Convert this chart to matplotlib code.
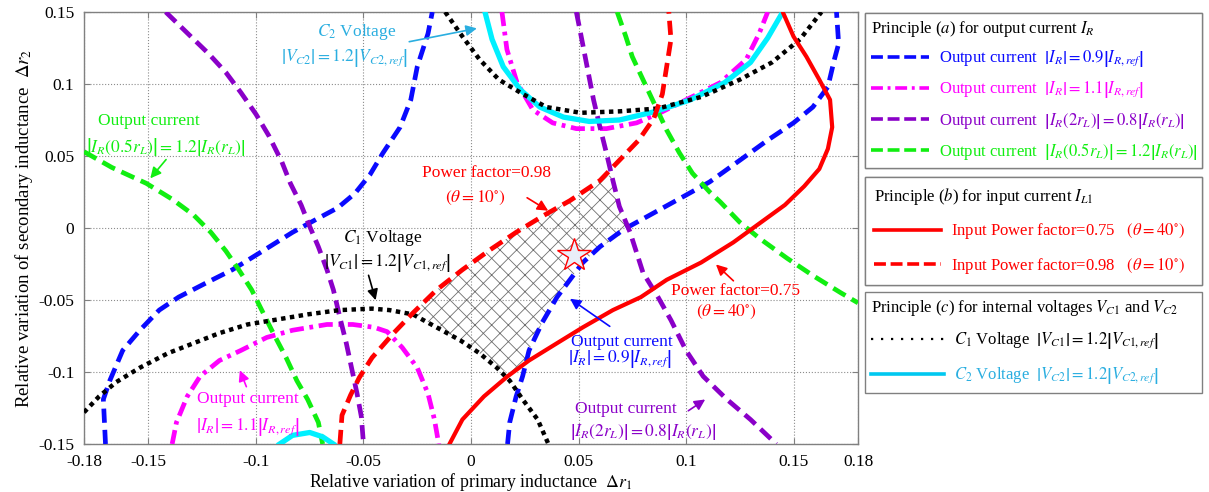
import matplotlib
matplotlib.use('Agg')
import matplotlib.pyplot as plt
from matplotlib.lines import Line2D

plt.rcParams['font.family'] = ['Liberation Serif', 'DejaVu Serif']
plt.rcParams['mathtext.fontset'] = 'stix'
plt.rcParams['axes.unicode_minus'] = False
plt.rcParams['hatch.linewidth'] = 0.6

# ---------------- data ----------------
# |I_R| = 0.9 |I_R,ref|  (blue dashed), two branches
blue_a_x = [-0.170, -0.171, -0.168, -0.162, -0.154, -0.145, -0.136, -0.123, -0.111, -0.098,
            -0.083, -0.072, -0.062, -0.054, -0.047, -0.041, -0.033, -0.028, -0.025, -0.020, -0.018]
blue_a_y = [-0.150, -0.119, -0.106, -0.085, -0.071, -0.057, -0.048, -0.038, -0.029, -0.017,
            -0.003, 0.006, 0.014, 0.024, 0.037, 0.052, 0.070, 0.089, 0.112, 0.135, 0.150]
blue_b_x = [0.017, 0.018, 0.021, 0.024, 0.027, 0.033, 0.040, 0.046, 0.052, 0.060, 0.071,
            0.082, 0.099, 0.111, 0.125, 0.138, 0.150, 0.159, 0.166, 0.169, 0.171, 0.170]
blue_b_y = [-0.150, -0.135, -0.117, -0.103, -0.085, -0.066, -0.048, -0.036, -0.024, -0.013, -0.001,
            0.008, 0.022, 0.032, 0.047, 0.061, 0.073, 0.084, 0.098, 0.117, 0.128, 0.150]

# |I_R| = 1.1 |I_R,ref|  (magenta dash-dot)
mag_a_x = [0.0144, 0.0167, 0.0214, 0.0288, 0.038, 0.049, 0.063, 0.077, 0.088, 0.100,
           0.116, 0.128, 0.134, 0.138]
mag_a_y = [0.150, 0.124, 0.101, 0.082, 0.073, 0.069, 0.069, 0.073, 0.080, 0.089,
           0.101, 0.117, 0.135, 0.150]
mag_b_x = [-0.139, -0.137, -0.132, -0.126, -0.117, -0.107, -0.095, -0.083, -0.067, -0.055,
           -0.045, -0.039, -0.032, -0.025, -0.020, -0.017, -0.015]
mag_b_y = [-0.150, -0.135, -0.117, -0.103, -0.092, -0.085, -0.076, -0.071, -0.067, -0.067,
           -0.069, -0.072, -0.083, -0.097, -0.115, -0.133, -0.150]

# |I_R(2 r_L)| = 0.8 |I_R(r_L)|  (purple dashed)
pur_a_x = [-0.142, -0.131, -0.122, -0.114, -0.107, -0.100, -0.094, -0.088, -0.084, -0.079,
           -0.075, -0.071, -0.067, -0.064, -0.061, -0.058, -0.055, -0.053, -0.051, -0.050]
pur_a_y = [0.150, 0.134, 0.121, 0.108, 0.094, 0.079, 0.064, 0.046, 0.031, 0.016,
           0.001, -0.013, -0.029, -0.043, -0.062, -0.080, -0.101, -0.115, -0.131, -0.150]
pur_b_x = [0.049, 0.051, 0.054, 0.057, 0.060, 0.063, 0.066, 0.069, 0.074, 0.077, 0.080,
           0.087, 0.093, 0.100, 0.108, 0.119, 0.130, 0.142]
pur_b_y = [0.150, 0.135, 0.112, 0.089, 0.070, 0.052, 0.033, 0.015, -0.003, -0.017, -0.031,
           -0.048, -0.064, -0.085, -0.103, -0.119, -0.133, -0.150]

# |I_R(0.5 r_L)| = 1.2 |I_R(r_L)|  (green dashed)
grn_a_x = [-0.180, -0.167, -0.151, -0.139, -0.129, -0.121, -0.114, -0.108, -0.102, -0.097,
           -0.092, -0.086, -0.081, -0.076, -0.071, -0.069]
grn_a_y = [0.053, 0.042, 0.031, 0.020, 0.009, -0.003, -0.016, -0.029, -0.043, -0.058,
           -0.073, -0.090, -0.106, -0.119, -0.135, -0.150]
grn_b_x = [0.068, 0.072, 0.075, 0.080, 0.086, 0.091, 0.097, 0.103, 0.111, 0.116, 0.125,
           0.134, 0.147, 0.159, 0.172, 0.180]
grn_b_y = [0.150, 0.133, 0.119, 0.103, 0.084, 0.068, 0.052, 0.038, 0.025, 0.018, 0.004,
           -0.007, -0.021, -0.033, -0.045, -0.052]

# Input power factor = 0.75 (red solid)
pf75_x = [-0.010, -0.004, 0.006, 0.017, 0.027, 0.040, 0.052, 0.066, 0.079, 0.091, 0.107,
          0.122, 0.134, 0.146, 0.155, 0.162, 0.166, 0.168, 0.167, 0.162, 0.156, 0.150, 0.145]
pf75_y = [-0.150, -0.133, -0.117, -0.103, -0.092, -0.080, -0.069, -0.057, -0.048, -0.036, -0.024,
          -0.010, 0.003, 0.016, 0.029, 0.041, 0.055, 0.070, 0.089, 0.103, 0.119, 0.133, 0.150]

# Input power factor = 0.98 (red dashed)
pf98_x = [-0.061, -0.060, -0.056, -0.052, -0.046, -0.036, -0.027, -0.016, -0.004, 0.009,
          0.021, 0.033, 0.046, 0.060, 0.069, 0.078, 0.085, 0.089, 0.091, 0.093, 0.092]
pf98_y = [-0.150, -0.130, -0.116, -0.104, -0.090, -0.073, -0.059, -0.043, -0.029, -0.015,
          -0.003, 0.008, 0.019, 0.033, 0.047, 0.061, 0.076, 0.093, 0.112, 0.131, 0.150]

# |V_C1| = 1.2 |V_C1,ref| (black dotted)
vc1_a_x = [-0.012, -0.004, 0.004, 0.013, 0.023, 0.035, 0.051, 0.069, 0.087, 0.107,
           0.125, 0.140, 0.153, 0.163]
vc1_a_y = [0.150, 0.133, 0.117, 0.103, 0.094, 0.084, 0.080, 0.081, 0.083, 0.091,
           0.103, 0.115, 0.131, 0.150]
vc1_b_x = [-0.180, -0.173, -0.165, -0.154, -0.141, -0.129, -0.117, -0.104, -0.092, -0.076,
           -0.061, -0.046, -0.038, -0.027, -0.016, -0.005, 0.004, 0.012, 0.018, 0.024, 0.031, 0.036]
vc1_b_y = [-0.128, -0.117, -0.107, -0.097, -0.087, -0.080, -0.073, -0.067, -0.064, -0.060,
           -0.057, -0.056, -0.057, -0.060, -0.069, -0.078, -0.087, -0.097, -0.106, -0.119, -0.133, -0.150]

# |V_C2| = 1.2 |V_C2,ref| (cyan solid)
vc2_a_x = [0.0065, 0.0098, 0.015, 0.023, 0.032, 0.043, 0.055, 0.069, 0.086, 0.102,
           0.118, 0.130, 0.138, 0.145]
vc2_a_y = [0.150, 0.131, 0.112, 0.096, 0.084, 0.077, 0.074, 0.075, 0.081, 0.089,
           0.101, 0.115, 0.132, 0.150]
vc2_b_x = [-0.089, -0.083, -0.075, -0.069, -0.064]
vc2_b_y = [-0.150, -0.144, -0.142, -0.145, -0.150]

# feasible (hatched) region boundary
hatch_x = [-0.027, -0.016, -0.004, 0.009, 0.021, 0.033, 0.046, 0.060, 0.065, 0.069, 0.073,
           0.060, 0.052, 0.046, 0.040, 0.033, 0.027, 0.026, 0.018, 0.012, 0.004, -0.005, -0.016]
hatch_y = [-0.059, -0.043, -0.029, -0.015, -0.003, 0.008, 0.019, 0.033, 0.037, 0.015, -0.002,
           -0.013, -0.024, -0.036, -0.048, -0.066, -0.085, -0.093, -0.101, -0.097, -0.087, -0.078, -0.069]

# chosen design point
star_x = [0.048]
star_y = [-0.019]

x_ticks = [-0.18, -0.15, -0.1, -0.05, 0, 0.05, 0.1, 0.15, 0.18]
x_tick_labels = ['-0.18', '-0.15', '-0.1', '-0.05', '0', '0.05', '0.1', '0.15', '0.18']
y_ticks = [-0.15, -0.1, -0.05, 0, 0.05, 0.1, 0.15]
y_tick_labels = ['-0.15', '-0.1', '-0.05', '0', '0.05', '0.1', '0.15']

# ---------------- styles ----------------
BLUE = '#0a0aff'
MAG = '#ff00ff'
PUR = '#8a00c8'
GRN = '#11ee11'
RED = '#ff0000'
BLK = '#000000'
CYN = '#00f0ff'
CYN_T = '#2aaee0'

DASH = (0, (3.0, 1.5))
DASHDOT = (0, (3.0, 1.2, 0.8, 1.2))
DOT = (0, (1, 1.0))
LW = 3.4
FS = 12.5
LFS = 12

fig = plt.figure(figsize=(12.09, 4.92), dpi=100)
ax = fig.add_axes([84 / 1209, 1 - 444 / 492, (858 - 84) / 1209, (444 - 12) / 492])

ax.fill(hatch_x, hatch_y, facecolor='white', edgecolor='#6e6e6e', linewidth=0,
        hatch='xx', zorder=1)

kw = dict(solid_joinstyle='round', dash_joinstyle='round')
ax.plot(blue_a_x, blue_a_y, color=BLUE, lw=LW, ls=DASH, zorder=3, **kw)
ax.plot(blue_b_x, blue_b_y, color=BLUE, lw=LW, ls=DASH, zorder=3, **kw)
ax.plot(mag_a_x, mag_a_y, color=MAG, lw=LW, ls=DASHDOT, zorder=3, **kw)
ax.plot(mag_b_x, mag_b_y, color=MAG, lw=LW, ls=DASHDOT, zorder=3, **kw)
ax.plot(pur_a_x, pur_a_y, color=PUR, lw=LW, ls=DASH, zorder=3, **kw)
ax.plot(pur_b_x, pur_b_y, color=PUR, lw=LW, ls=DASH, zorder=3, **kw)
ax.plot(grn_a_x, grn_a_y, color=GRN, lw=LW, ls=DASH, zorder=3, **kw)
ax.plot(grn_b_x, grn_b_y, color=GRN, lw=LW, ls=DASH, zorder=3, **kw)
ax.plot(vc2_a_x, vc2_a_y, color=CYN, lw=LW + 0.4, ls='-', zorder=3, **kw)
ax.plot(vc2_b_x, vc2_b_y, color=CYN, lw=LW + 0.4, ls='-', zorder=3, **kw)
ax.plot(vc1_a_x, vc1_a_y, color=BLK, lw=3.2, ls=DOT, zorder=4)
ax.plot(vc1_b_x, vc1_b_y, color=BLK, lw=3.2, ls=DOT, zorder=4)
ax.plot(pf75_x, pf75_y, color=RED, lw=3.0, ls='-', zorder=4, **kw)
ax.plot(pf98_x, pf98_y, color=RED, lw=LW, ls=DASH, zorder=4, **kw)

ax.plot(star_x, star_y, marker='*', ms=25, mfc='#e9eef8', mec=RED, mew=1.0, ls='none', zorder=6)

ax.set_xlim(-0.18, 0.18)
ax.set_ylim(-0.15, 0.15)
ax.set_xticks(x_ticks)
ax.set_xticklabels(x_tick_labels)
ax.set_yticks(y_ticks)
ax.set_yticklabels(y_tick_labels)
ax.tick_params(direction='in', top=True, right=True, labelsize=FS, pad=7, length=4,
               color='#808080')
ax.grid(True, ls=':', color='#8c8c8c', lw=0.8)
for s in ax.spines.values():
    s.set_color('#808080')
    s.set_linewidth(1.0)
ax.set_xlabel(r'Relative variation of primary inductance  $\Delta r_1$', fontsize=12.8, labelpad=1)
ax.set_ylabel(r'Relative variation of secondary inductance  $\Delta r_2$', fontsize=13.5, labelpad=2)

# ---------------- annotations ----------------
def note(lines, color, arrow_from, arrow_to):
    for (tx, ty, s) in lines:
        ax.text(tx, ty, s, color=color, fontsize=FS, ha='center', va='center', zorder=7)
    ax.annotate('', xy=arrow_to, xytext=arrow_from,
                arrowprops=dict(arrowstyle='-|>', color=color, lw=1.2, mutation_scale=16),
                zorder=7)

note([(-0.053, 0.136, r'$C_2$ Voltage'),
      (-0.059, 0.118, r'$\left|V_{C2}\right| = 1.2\left|V_{C2,ref}\right|$')],
     CYN_T, (-0.030, 0.129), (0.004, 0.139))
note([(-0.150, 0.074, 'Output current'),
      (-0.142, 0.056, r'$\left|I_R(0.5r_L)\right| = 1.2\left|I_R(r_L)\right|$')],
     GRN, (-0.141, 0.049), (-0.150, 0.033))
note([(0.007, 0.038, 'Power factor=0.98'),
      (0.002, 0.021, r'$(\theta = 10^{\circ})$')],
     RED, (0.025, 0.022), (0.037, 0.011))
note([(-0.041, -0.007, r'$C_1$ Voltage'),
      (-0.039, -0.024, r'$\left|V_{C1}\right| = 1.2\left|V_{C1,ref}\right|$')],
     BLK, (-0.048, -0.031), (-0.044, -0.052))
note([(-0.104, -0.119, 'Output current'),
      (-0.104, -0.138, r'$\left|I_R\right| = 1.1\left|I_{R,ref}\right|$')],
     MAG, (-0.104, -0.112), (-0.108, -0.097))
note([(0.070, -0.079, 'Output current'),
      (0.069, -0.091, r'$\left|I_R\right| = 0.9\left|I_{R,ref}\right|$')],
     BLUE, (0.0656, -0.0694), (0.045, -0.048))
note([(0.123, -0.044, 'Power factor=0.75'),
      (0.119, -0.058, r'$(\theta = 40^{\circ})$')],
     RED, (0.123, -0.038), (0.113, -0.024))
note([(0.072, -0.126, 'Output current'),
      (0.080, -0.142, r'$\left|I_R(2r_L)\right| = 0.8\left|I_R(r_L)\right|$')],
     PUR, (0.100, -0.128), (0.110, -0.118))

# ---------------- legends ----------------
W, H = 1209, 492
def box(title, handles, labels, colors, top_px, hl=3.4, ls=0.55, bp=0.35):
    lg = fig.legend(handles, labels, loc='upper left',
                    bbox_to_anchor=(865 / W, 1 - top_px / H - 0.01, (1202 - 865) / W, 0.01),
                    mode='expand', title=title, title_fontsize=LFS, fontsize=LFS,
                    alignment='left', frameon=True, fancybox=False, edgecolor='#808080',
                    framealpha=1, borderaxespad=0, handlelength=hl, handletextpad=0.6,
                    labelspacing=ls, borderpad=bp)
    lg.get_frame().set_linewidth(1.0)
    for t, c in zip(lg.get_texts(), colors):
        t.set_color(c)
    return lg

h1 = [Line2D([], [], color=BLUE, lw=2.6, ls=(0, (3.3, 1.3))),
      Line2D([], [], color=MAG, lw=2.6, ls=(0, (3.3, 1.3, 0.8, 1.3))),
      Line2D([], [], color=PUR, lw=2.6, ls=(0, (3.3, 1.3))),
      Line2D([], [], color=GRN, lw=2.6, ls=(0, (3.3, 1.3)))]
l1 = [r'Output current  $\left|I_R\right| = 0.9\left|I_{R,ref}\right|$',
      r'Output current  $\left|I_R\right| = 1.1\left|I_{R,ref}\right|$',
      r'Output current  $\left|I_R(2r_L)\right| = 0.8\left|I_R(r_L)\right|$',
      r'Output current  $\left|I_R(0.5r_L)\right| = 1.2\left|I_R(r_L)\right|$']
lg1 = box(r'Principle ($a$) for output current $I_R$', h1, l1, [BLUE, MAG, PUR, GRN], 13,
          hl=3.5, ls=0.6, bp=0.35)

h2 = [Line2D([], [], color=RED, lw=2.6, ls='-'),
      Line2D([], [], color=RED, lw=2.6, ls=(0, (3.3, 1.3)))]
l2 = [r'Input Power factor=0.75   $(\theta = 40^{\circ})$',
      r'Input Power factor=0.98   $(\theta = 10^{\circ})$']
lg2 = box(r'Principle ($b$) for input current $I_{L1}$', h2, l2, [RED, RED], 177, hl=4.0,
          ls=0.85, bp=0.55)
fig.add_artist(lg1)

h3 = [Line2D([], [], color=BLK, lw=1.6, ls=(0, (1, 3.5))),
      Line2D([], [], color='#00c8f0', lw=2.6, ls='-')]
l3 = [r'$C_1$ Voltage  $\left|V_{C1}\right| = 1.2\left|V_{C1,ref}\right|$',
      r'$C_2$ Voltage  $\left|V_{C2}\right| = 1.2\left|V_{C2,ref}\right|$']
lg3 = box(r'Principle ($c$) for internal voltages $V_{C1}$ and $V_{C2}$', h3, l3, [BLK, CYN_T], 292,
          hl=4.4, ls=0.8, bp=0.35)
fig.add_artist(lg2)

fig.savefig('out.png', dpi=100)
